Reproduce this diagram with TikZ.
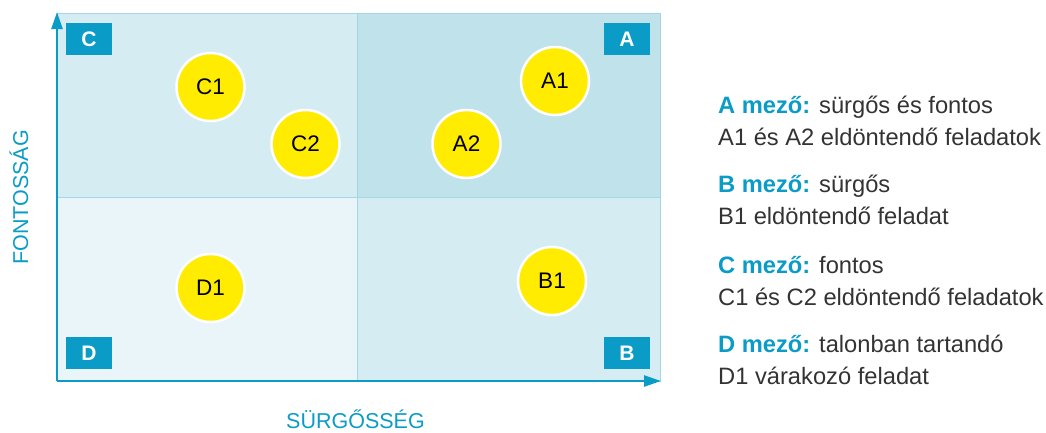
\documentclass[tikz,border=0pt]{standalone}
\usepackage{fontspec}
\setmainfont{Liberation Sans}
\usetikzlibrary{arrows.meta}
\definecolor{axisblue}{HTML}{0A9CC6}
\definecolor{qC}{HTML}{D5ECF2}
\definecolor{qA}{HTML}{BFE2EB}
\definecolor{qD}{HTML}{E9F5F8}
\definecolor{qB}{HTML}{D5ECF2}
\definecolor{gridline}{HTML}{A5D6E4}
\definecolor{dotyellow}{HTML}{FFEC00}
\definecolor{txtgray}{HTML}{333333}
\tikzset{
  quad/.style={draw=gridline, line width=1pt},
  tagbox/.style={fill=axisblue, text=white, font=\fontsize{21}{21}\selectfont\bfseries, minimum width=46pt, minimum height=32pt, inner sep=0pt},
  dot/.style={circle, fill=dotyellow, draw=white, line width=2.5pt, minimum size=68pt, inner sep=0pt, font=\fontsize{22.5}{22.5}\selectfont, text=black},
  axislabel/.style={text=axisblue, font=\fontsize{21.5}{21.5}\selectfont, inner sep=0pt},
  axisline/.style={draw=axisblue, line width=2.4pt, -{Triangle[length=17pt,width=11pt]}},
  legend/.style={anchor=base west, inner sep=0pt, text=txtgray, font=\fontsize{23.7}{23.7}\selectfont}
}
\newcommand{\hlt}[1]{\textcolor{axisblue}{\bfseries #1}}
\begin{document}
\begin{tikzpicture}[x=1pt,y=-1pt]
\useasboundingbox (0,0) rectangle (1046,432);
% quadrants
\fill[qC] (57,13) rectangle (357,197);
\fill[qA] (357,13) rectangle (660,197);
\fill[qD] (57,197) rectangle (357,381);
\fill[qB] (357,197) rectangle (660,381);
\draw[quad] (57,13) rectangle (660,381);
\draw[quad] (357,13) -- (357,381);
\draw[quad] (57,197) -- (660,197);
% axes
\coordinate (o) at (57,381);
\coordinate (ytop) at (57,12);
\coordinate (xend) at (661,381);
\draw[axisline] (o) -- (ytop);
\draw[axisline] (o) -- (xend);
% tags
\node[tagbox] (tC) at (89,39) {C};
\node[tagbox] (tA) at (627,39) {A};
\node[tagbox] (tD) at (89,353) {D};
\node[tagbox] (tB) at (627,353) {B};
% dots
\node[dot] (C1) at (210.5,87) {C1};
\node[dot] (C2) at (305.5,144) {C2};
\node[dot] (A1) at (555,81) {A1};
\node[dot] (A2) at (466.5,144) {A2};
\node[dot] (D1) at (210.5,288) {D1};
\node[dot] (B1) at (552,281) {B1};
% axis labels
\node[axislabel, rotate=90, anchor=base] (ylab) at (28,197.5) {FONTOSSÁG};
\node[axislabel, anchor=base] (xlab) at (355.5,428.5) {SÜRGŐSSÉG};
% legend
\node[legend] (la1) at (718,113) {\hlt{A mező:} sürgős és fontos};
\node[legend] (la2) at (718,145) {A1 és A2 eldöntendő feladatok};
\node[legend] (lb1) at (718,192) {\hlt{B mező:} sürgős};
\node[legend] (lb2) at (718,224) {B1 eldöntendő feladat};
\node[legend] (lc1) at (718,273) {\hlt{C mező:} fontos};
\node[legend] (lc2) at (718,305) {C1 és C2 eldöntendő feladatok};
\node[legend] (ld1) at (718,352) {\hlt{D mező:} talonban tartandó};
\node[legend] (ld2) at (718,384) {D1 várakozó feladat};
\end{tikzpicture}
\end{document}
